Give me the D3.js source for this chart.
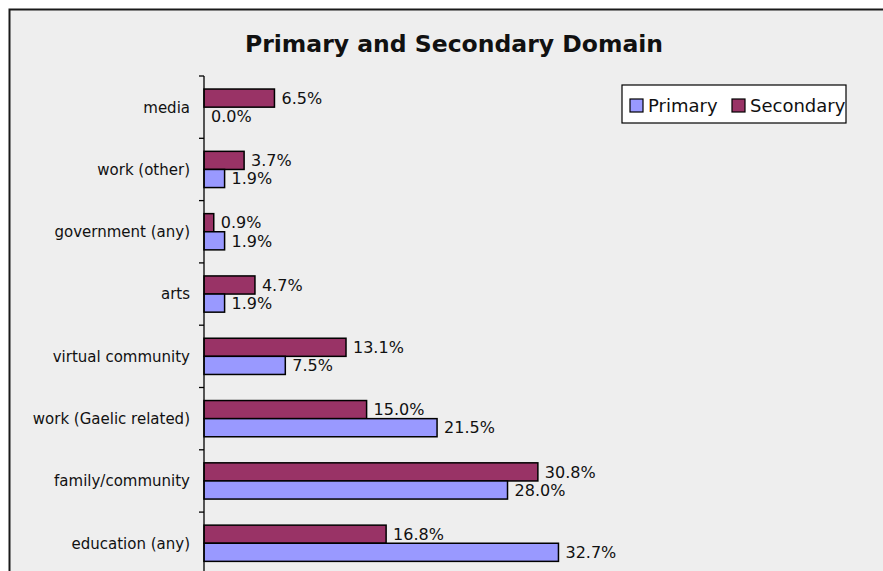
<!DOCTYPE html>
<html>
<head>
<meta charset="utf-8">
<script src="https://cdn.jsdelivr.net/npm/d3@7"></script>
<style>
  html, body { margin: 0; padding: 0; background: #ffffff; }
  svg { display: block; }
  text { font-family: "DejaVu Sans", sans-serif; fill: #111; }
</style>
</head>
<body>
<svg id="chart" width="883" height="571"></svg>
<script>
// Domain categories, listed top to bottom
const categories = [
  "media",
  "work (other)",
  "government (any)",
  "arts",
  "virtual community",
  "work (Gaelic related)",
  "family/community",
  "education (any)"
];
// Share of respondents, in percent
const primary   = [0.0, 1.9, 1.9, 1.9, 7.5, 21.5, 28.0, 32.7];
const secondary = [6.5, 3.7, 0.9, 4.7, 13.1, 15.0, 30.8, 16.8];
const seriesNames = ["Secondary", "Primary"];
const seriesColors = { Primary: "#9999ff", Secondary: "#993366" };
const legendOrder = ["Primary", "Secondary"];

const svg = d3.select("#chart");

// Chart area panel
svg.append("rect")
  .attr("x", 9.5).attr("y", 9.5)
  .attr("width", 900).attr("height", 600)
  .attr("fill", "#eeeeee")
  .attr("stroke", "#1a1a1a")
  .attr("stroke-width", 2);

// Title
svg.append("text")
  .attr("x", 454).attr("y", 52)
  .attr("text-anchor", "middle")
  .style("font-weight", "bold")
  .style("font-size", "23.5px")
  .text("Primary and Secondary Domain");

// Scales
const y = d3.scaleBand()
  .domain(categories)
  .range([76, 574.4])
  .paddingInner(0).paddingOuter(0);

const ySub = d3.scaleBand()
  .domain(seriesNames)
  .range([0, y.bandwidth()])
  .paddingInner(0).paddingOuter(0.72);

const x = d3.scaleLinear()
  .domain([0, 40])
  .range([204, 204 + 433.6]);

const rows = categories.map((c, i) => ({
  category: c,
  values: [
    { series: "Secondary", value: secondary[i] },
    { series: "Primary", value: primary[i] }
  ]
}));

// Bars
const groups = svg.append("g").selectAll("g")
  .data(rows)
  .join("g")
  .attr("transform", d => `translate(0,${y(d.category)})`);

groups.selectAll("rect")
  .data(d => d.values)
  .join("rect")
  .attr("x", x(0))
  .attr("y", d => ySub(d.series))
  .attr("width", d => x(d.value) - x(0))
  .attr("height", ySub.bandwidth())
  .attr("fill", d => seriesColors[d.series])
  .attr("stroke", d => d.value > 0 ? "#000" : "none")
  .attr("stroke-width", 1.5);

// Value labels
groups.selectAll("text")
  .data(d => d.values)
  .join("text")
  .attr("x", d => x(d.value) + 7)
  .attr("y", d => ySub(d.series) + ySub.bandwidth() / 2)
  .attr("dy", "0.36em")
  .style("font-size", "16px")
  .text(d => d.value.toFixed(1) + "%");

// Category axis with ticks on band boundaries
const axisG = svg.append("g");
axisG.append("line")
  .attr("x1", x(0)).attr("x2", x(0))
  .attr("y1", y.range()[0]).attr("y2", y.range()[1])
  .attr("stroke", "#000").attr("stroke-width", 1.3);

const boundaries = categories.map(c => y(c)).concat([y.range()[1]]);
axisG.selectAll("line.tick")
  .data(boundaries)
  .join("line")
  .attr("class", "tick")
  .attr("x1", x(0) - 5).attr("x2", x(0))
  .attr("y1", d => d).attr("y2", d => d)
  .attr("stroke", "#000").attr("stroke-width", 1.3);

axisG.selectAll("text")
  .data(categories)
  .join("text")
  .attr("x", 190)
  .attr("y", d => y(d) + y.bandwidth() / 2)
  .attr("dy", "0.36em")
  .attr("text-anchor", "end")
  .style("font-size", "15px")
  .text(d => d);

// Legend
const legend = svg.append("g");
legend.append("rect")
  .attr("x", 622).attr("y", 85)
  .attr("width", 224).attr("height", 38)
  .attr("fill", "#ffffff")
  .attr("stroke", "#000").attr("stroke-width", 1.2);

const legendX = [630, 732];
legendOrder.forEach((name, i) => {
  legend.append("rect")
    .attr("x", legendX[i]).attr("y", 99)
    .attr("width", 13).attr("height", 13)
    .attr("fill", seriesColors[name])
    .attr("stroke", "#000").attr("stroke-width", 1.2);
  legend.append("text")
    .attr("x", legendX[i] + 18).attr("y", 105.5)
    .attr("dy", "0.36em")
    .style("font-size", "18px")
    .text(name);
});
</script>
</body>
</html>
